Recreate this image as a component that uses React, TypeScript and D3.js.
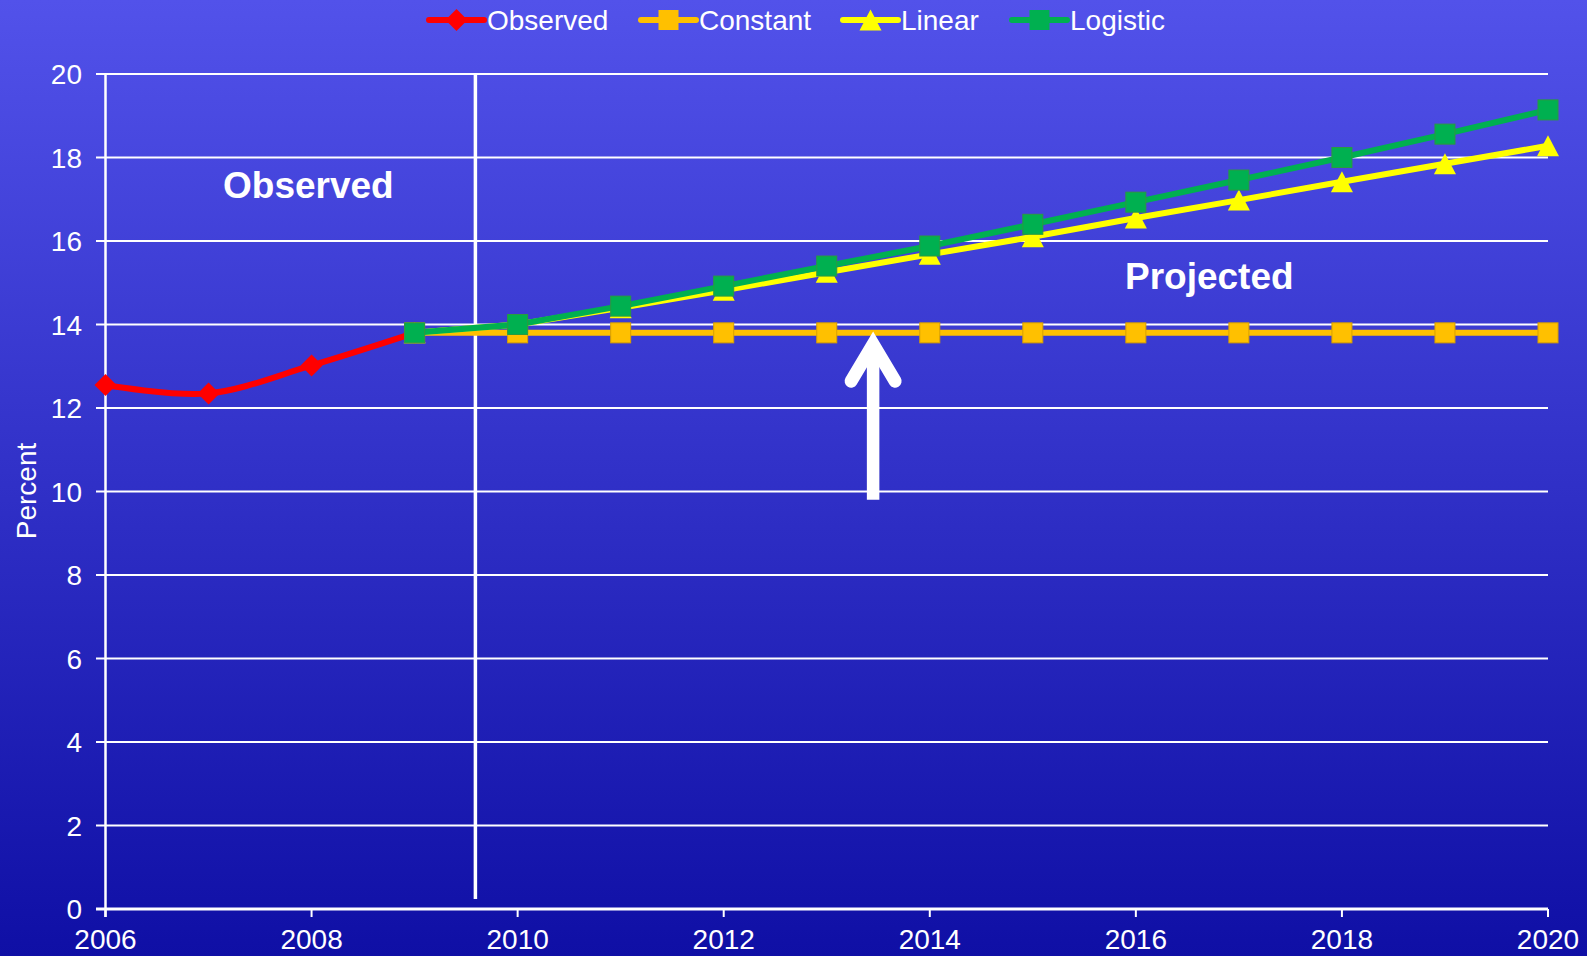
import React from 'react';
import * as d3 from 'd3';

const observedYears = [2006, 2007, 2008, 2009];
const observedValues = [12.55, 12.35, 13.02, 13.8];
const projYears = [2009, 2010, 2011, 2012, 2013, 2014, 2015, 2016, 2017, 2018, 2019, 2020];
const constantValues = [13.8, 13.8, 13.8, 13.8, 13.8, 13.8, 13.8, 13.8, 13.8, 13.8, 13.8, 13.8];
const linearValues = [13.8, 14.0, 14.4, 14.82, 15.25, 15.68, 16.1, 16.55, 16.98, 17.42, 17.85, 18.28];
const logisticValues = [13.8, 14.0, 14.44, 14.92, 15.4, 15.88, 16.4, 16.93, 17.46, 18.0, 18.56, 19.14];
const xTicks = [2006, 2008, 2010, 2012, 2014, 2016, 2018, 2020];
const yTicks = [0, 2, 4, 6, 8, 10, 12, 14, 16, 18, 20];
const legendNames = ['Observed', 'Constant', 'Linear', 'Logistic'];
const legendColors = ['#ff0000', '#ffc000', '#ffff00', '#00b050'];
const legendShapes = ['diamond', 'square', 'triangle', 'square'];

// annotations in data units
const dividerYear = 2009.59;
const dividerBottom = 0.24;
const arrowYear = 2013.45;
const arrowFrom = 9.8;
const arrowTo = 13.72;

const W = 1587;
const H = 956;
const FONT = '"Liberation Sans", Arial, sans-serif';

function Marker({ shape, x, y, color, stroke }: { shape: string; x: number; y: number; color: string; stroke?: string }) {
  if (shape === 'diamond') {
    const s = 11;
    return <path d={`M${x},${y - s} L${x + s},${y} L${x},${y + s} L${x - s},${y} Z`} fill={color} />;
  }
  if (shape === 'triangle') {
    const s = 10.5;
    return <path d={`M${x},${y - s} L${x + s * 1.05},${y + s} L${x - s * 1.05},${y + s} Z`} fill={color} />;
  }
  const s = 10;
  return <rect x={x - s} y={y - s} width={2 * s} height={2 * s} fill={color} stroke={stroke || 'none'} strokeWidth={1} />;
}

export default function App() {
  const x = d3.scaleLinear().domain([2006, 2020]).range([105.5, 1548]);
  const y = d3.scaleLinear().domain([0, 20]).range([909, 74]);

  const smooth = d3.line<number>().x((_, i) => x(observedYears[i])).y((v) => y(v)).curve(d3.curveCatmullRom.alpha(0));
  const straight = d3.line<number>().x((_, i) => x(projYears[i])).y((v) => y(v));

  const legendX = [429, 641, 843, 1012];
  const ax = x(arrowYear);
  const aTop = y(arrowTo);
  const aBot = y(arrowFrom);

  return (
    <svg width={W} height={H} style={{ position: 'absolute', left: 0, top: 0 }} fontFamily={FONT}>
      <defs>
        <linearGradient id="bg" x1="0" y1="0" x2="0" y2="1">
          <stop offset="0" stopColor="#5252ea" />
          <stop offset="1" stopColor="#0f0fa5" />
        </linearGradient>
      </defs>
      <rect x={0} y={0} width={W} height={H} fill="url(#bg)" />

      {/* gridlines */}
      {yTicks.map((t) => (
        <g key={t}>
          <line x1={96} x2={1548} y1={y(t)} y2={y(t)} stroke="#ffffff" strokeWidth={t === 0 ? 3 : 2} />
          <text x={82} y={y(t) + 10} fill="#fff" fontSize={28} textAnchor="end">{t}</text>
        </g>
      ))}
      {/* y axis */}
      <line x1={x(2006)} x2={x(2006)} y1={y(20)} y2={y(0) + 8} stroke="#fff" strokeWidth={2.5} />
      {xTicks.map((t) => (
        <g key={t}>
          <line x1={x(t)} x2={x(t)} y1={y(0)} y2={y(0) + 8} stroke="#fff" strokeWidth={2} />
          <text x={x(t)} y={949} fill="#fff" fontSize={28} textAnchor="middle">{t}</text>
        </g>
      ))}
      <text transform={`translate(36,491) rotate(-90)`} fill="#fff" fontSize={28} textAnchor="middle">Percent</text>

      {/* divider */}
      <line x1={x(dividerYear)} x2={x(dividerYear)} y1={y(20)} y2={y(dividerBottom)} stroke="#fff" strokeWidth={3.5} />

      {/* series */}
      <path d={smooth(observedValues) || ''} fill="none" stroke="#ff0000" strokeWidth={6} />
      {observedValues.map((v, i) => (
        <Marker key={'o' + i} shape="diamond" x={x(observedYears[i])} y={y(v)} color="#ff0000" />
      ))}
      <path d={straight(constantValues) || ''} fill="none" stroke="#ffc000" strokeWidth={6} />
      {constantValues.map((v, i) => (
        <Marker key={'c' + i} shape="square" x={x(projYears[i])} y={y(v)} color="#ffc000" stroke="#d9a000" />
      ))}
      <path d={straight(linearValues) || ''} fill="none" stroke="#ffff00" strokeWidth={6} />
      {linearValues.map((v, i) => (
        <Marker key={'l' + i} shape="triangle" x={x(projYears[i])} y={y(v)} color="#ffff00" />
      ))}
      <path d={straight(logisticValues) || ''} fill="none" stroke="#00b050" strokeWidth={6} />
      {logisticValues.map((v, i) => (
        <Marker key={'g' + i} shape="square" x={x(projYears[i])} y={y(v)} color="#00b050" stroke="#2a9a40" />
      ))}

      {/* annotations */}
      <text x={223} y={198} fill="#fff" fontSize={37} fontWeight="bold">Observed</text>
      <text x={1125} y={289} fill="#fff" fontSize={37} fontWeight="bold">Projected</text>
      <line x1={ax} x2={ax} y1={aTop + 8} y2={aBot} stroke="#fff" strokeWidth={12.5} />
      <path d={`M${ax - 22},${aTop + 45} L${ax},${aTop + 8} L${ax + 22},${aTop + 45}`} fill="none" stroke="#fff" strokeWidth={13} strokeLinecap="round" strokeLinejoin="miter" />

      {/* legend */}
      {legendNames.map((n, i) => (
        <g key={n}>
          <line x1={legendX[i]} x2={legendX[i] + 55} y1={20} y2={20} stroke={legendColors[i]} strokeWidth={6} strokeLinecap="round" />
          <Marker shape={legendShapes[i]} x={legendX[i] + 27.5} y={20} color={legendColors[i]} />
          <text x={legendX[i] + 58} y={30} fill="#fff" fontSize={28}>{n}</text>
        </g>
      ))}
    </svg>
  );
}
